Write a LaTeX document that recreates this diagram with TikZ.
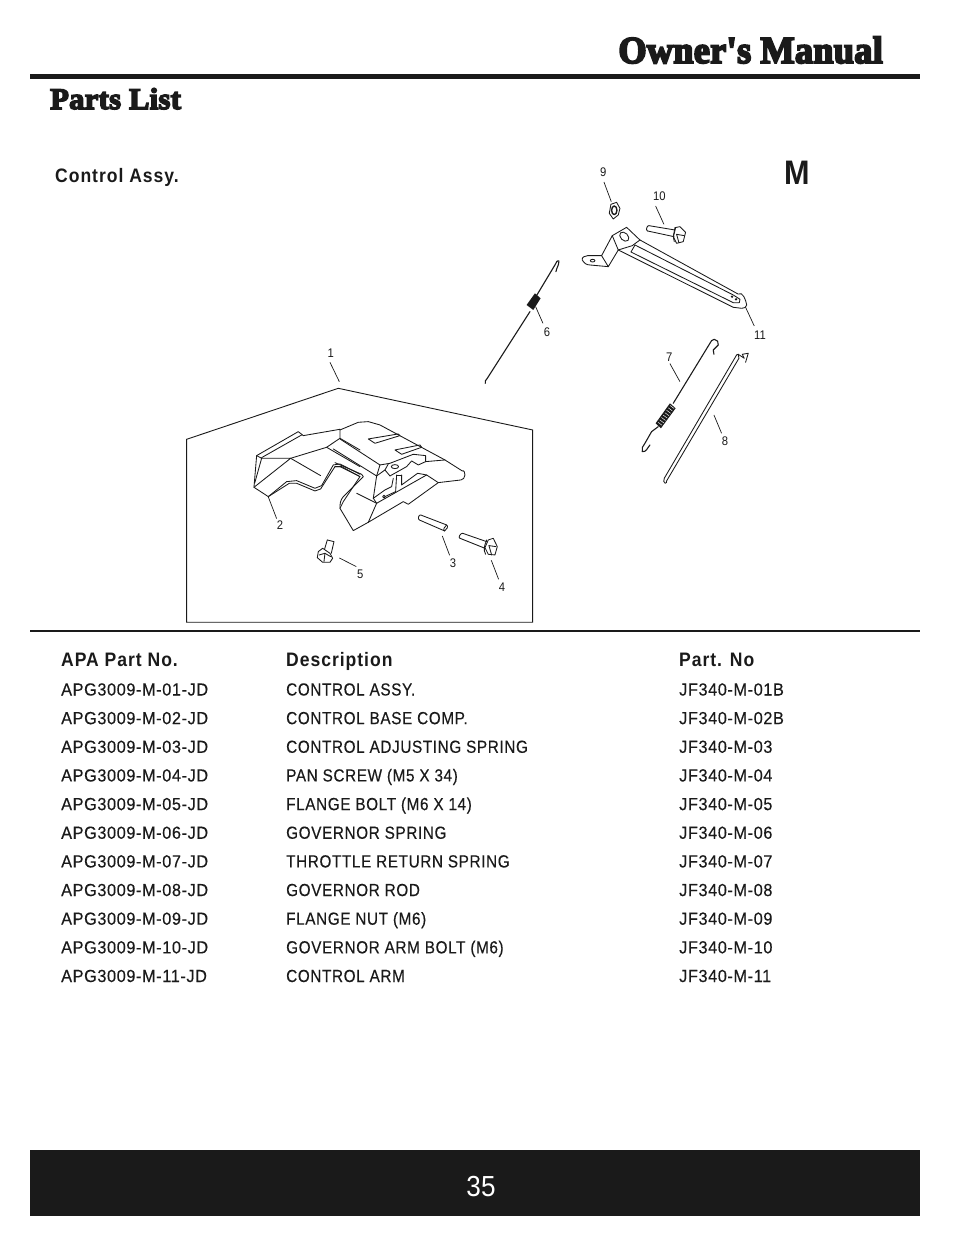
\documentclass[tikz,border=0pt]{standalone}
\usepackage{fontspec}
\setmainfont{Liberation Sans}
\newfontfamily\codefont[FakeStretch=0.93,LetterSpace=3.5,FakeBold=0.25]{Liberation Sans}
\newfontfamily\bodyfont[FakeStretch=0.875,LetterSpace=3.5,FakeBold=0.25]{Liberation Sans}
\newfontfamily\headfont[FakeStretch=0.90,LetterSpace=5]{Liberation Sans}
\newfontfamily\slabfont[FakeStretch=0.95,FakeBold=5,LetterSpace=1]{Liberation Serif}
\newfontfamily\slabwide[FakeStretch=1.02,FakeBold=5,LetterSpace=1]{Liberation Serif}
\newfontfamily\numfont[FakeStretch=0.9]{Liberation Sans}
\usetikzlibrary{calc}
\definecolor{ink}{HTML}{1A1A1A}
\tikzset{
  cell/.style={anchor=base west,inner sep=0pt,text=ink,font=\bodyfont\fontsize{17.5}{20}\selectfont},
  codecell/.style={anchor=base west,inner sep=0pt,text=ink,font=\codefont\fontsize{17.5}{20}\selectfont},
  headcell/.style={anchor=base west,inner sep=0pt,text=ink,font=\headfont\bfseries\fontsize{19.5}{22}\selectfont},
  callout/.style={inner sep=0pt,text=ink,font=\numfont\fontsize{12.5}{14}\selectfont},
  part/.style={line width=0.85pt,draw=ink,line join=round,line cap=round},
  wire/.style={line width=1.1pt,draw=ink,line join=round,line cap=round},
  leader/.style={line width=0.7pt,draw=ink},
  third/.style={x=0.3333pt,y=-0.3333pt}
}
\begin{document}
\begin{tikzpicture}[x=1pt,y=-1pt]
\useasboundingbox (0,0) rectangle (954,1235);
\fill[white] (0,0) rectangle (954,1235);
% header
\node[anchor=base east,inner sep=0pt,text=ink,font=\slabfont\bfseries\fontsize{38}{40}\selectfont] (title) at (883,63) {Owner's Manual};
\fill[ink] (30,74) rectangle (920,78.5);
\node[anchor=base west,inner sep=0pt,text=ink,font=\slabwide\bfseries\fontsize{30}{32}\selectfont] (parts) at (50,109) {Parts List};
\node[headcell] (assy) at (55,182) {Control Assy.};
\node[anchor=base west,inner sep=0pt,text=ink,font=\headfont\bfseries\fontsize{34}{36}\selectfont] (letter) at (784,184) {M};
% panel frame and callouts
\begin{scope}[third,shift={(540,1110)}]
\draw[line width=0.9pt,draw=ink] (20,208)--(475,55)--(1058,180)--(1058,757)--(20,757)--cycle;
\node[callout] (n2) at (300,466) {2};
\node[callout] (n3) at (819,581) {3};
\node[callout] (n4) at (966,653) {4};
\node[callout] (n5) at (541,612) {5};
\node[callout] (n1) at (452,-50) {1};
\coordinate (p1) at (478,35);
\coordinate (p2) at (265,381);
\coordinate (p3) at (787,498);
\coordinate (p4) at (934,571);
\coordinate (p5) at (478,564);
\draw[leader] (p1)--($(n1)+(-2,27)$);
\draw[leader] (p2)--($(n2)+(-10,-20)$);
\draw[leader] (p3)--($(n3)+(-10,-25)$);
\draw[leader] (p4)--($(n4)+(-10,-25)$);
\draw[leader] (p5)--($(n5)+(-12,-22)$);
\end{scope}
% control base, left half
\begin{scope}[third,shift={(750,1245)}]
\draw[part] (270,43)--(160,62)--(145,50)--(20,122)--(12,217)--(55,245)--(110,200)--(140,197)--(195,220)--(215,212)--(250,150)--(270,147)--(330,178);
\draw[part] (55,245)--(118,205)--(140,205)--(195,228)--(212,222)--(255,155)--(270,155)--(330,185);
\draw[part] (12,217)--(122,130)--(35,130)--(20,122);
\draw[part] (35,130)--(14,205);
\draw[part] (35,128)--(155,60);
\draw[part] (122,130)--(230,97)--(270,70)--(270,43);
\draw[part] (122,130)--(212,182);
\draw[part] (230,97)--(330,155);
\draw[part] (270,70)--(330,105);
\end{scope}
% control base, right half
\begin{scope}[third,shift={(1005,1245)}]
\draw[part] (15,45)--(70,22)--(100,20)--(135,30)--(330,135)--(382,168) to[out=35,in=80] (390,180) to[out=-100,in=0] (378,195)--(310,203)--(220,268)--(205,260)--(100,322)--(55,347)--(15,280) to[out=90,in=-130] (25,245)--(85,185)--(80,178)--(0,143);
\draw[part] (0,155)--(20,155)--(75,185)--(25,260)--(15,280);
\draw[part] (-5,102)--(125,183)--(115,250)--(125,265)--(100,322);
\draw[part] (65,235)--(125,265)--(275,180)--(310,203);
\draw[part] (15,72)--(135,150)--(125,183);
\draw[part] (100,72)--(190,57)--(195,62)--(120,85)--cycle;
\draw[part] (180,105)--(255,90)--(260,97)--(200,118)--cycle;
\draw[part] (135,150)--(165,145)--(235,118)--(272,122)--(272,140)--(330,135);
\draw[part] (180,155) ellipse (11 and 6);
\draw[part] (160,147)--(150,165)--(125,183);
\draw[part] (150,165)--(165,183)--(215,155)--(230,138)--(250,150)--(272,140);
\draw[part] (175,190)--(170,215)--(150,225)--(115,250);
\draw[part] (185,180)--(182,230)--(150,245);
\draw[part] (200,180)--(200,210)--(248,175)--(275,180);
\draw[part] (185,180)--(200,180);
\draw[part] (147,245) circle (4);
\end{scope}
% pin 3, bolts 4 and 5
\begin{scope}[third,shift={(930,1515)}]
\draw[part] (332,30)--(410,60) to[out=-30,in=30] (404,78)--(328,45) to[out=150,in=170] cycle;
\draw[part] (410,60) to[out=-140,in=150] (404,78);
\draw[part] (458,85)--(530,110);
\draw[part] (450,100)--(525,130);
\draw[part] (458,85) to[out=170,in=170] (450,100);
\draw[part] (535,105)--(550,100)--(562,125)--(555,150)--(535,148)--(525,128)--cycle;
\draw[part] (530,105) to[out=-110,in=120] (527,148);
\draw[part] (537,122)--(558,125);
\draw[part] (537,122)--(545,150);
\draw[part] (52,105)--(72,110)--(64,145);
\draw[part] (52,105)--(44,132);
\draw[part] (38,130)--(60,145)--(68,160)--(60,172)--(38,172)--(22,158)--(25,140)--cycle;
\draw[part] (28,150)--(45,145)--(62,155);
\draw[part] (45,145)--(42,170);
\end{scope}
% nut 9, bolt 10, arm 11 roots
\begin{scope}[third,shift={(1725,585)}]
\draw[part] (108,28)--(125,22)--(135,40)--(130,60)--(115,72)--(103,55)--cycle;
\draw[part,line width=1.4pt] (118,46) ellipse (8 and 13);
\draw[part] (222,92)--(300,105);
\draw[part] (218,108)--(297,125);
\draw[part] (222,92) to[out=170,in=170] (218,108);
\draw[part] (300,98)--(315,95)--(332,112)--(325,140)--(305,145)--(295,125)--cycle;
\draw[part] (302,98) to[out=-100,in=110] (298,140);
\draw[part] (305,118)--(328,122);
\draw[part] (305,118)--(312,143);
\draw[part] (112,122)--(155,97)--(195,135)--(172,152)--(130,165)--cycle;
\draw[part] (112,122)--(80,182)--(100,215)--(130,165);
\draw[part] (80,182)--(38,182) to[out=180,in=110] (22,195) to[out=-60,in=180] (45,210)--(100,215);
\draw[part] (53,197) ellipse (7 and 4);
\draw[part,rotate around={-45:(148,125)}] (148,125) ellipse (16 and 11);
\end{scope}
% arm 11, long part
\draw[part] (640,240)--(738,294) to[out=30,in=100] (746.7,305) to[out=-90,in=0] (741.7,308.3)--(733.3,307.3)--(618.3,250);
\draw[part] (635,245)--(733.3,295)--(740,299.3)--(739.3,302.7)--(733.3,302.7)--(631,252);
\draw[part] (635,245)--(631,252);
\fill[ink] (732,296.7) circle (1.3) (736,299.3) circle (1.3);
% spring 6 and callouts of the right group
\begin{scope}[third,shift={(1410,465)}]
\draw[wire] (46,685) to[out=120,in=-125] (52,670)--(180,470);
\draw[wire] (195,430)--(255,330) to[out=60,in=150] (267,318) to[out=-90,in=80] (258,350);
\fill[ink] (170,450)--(190,465)--(212,430)--(195,415)--cycle;
\node[callout] (n6) at (231,533) {6};
\node[callout] (n7) at (598,606) {7};
\node[callout] (n8) at (765,860) {8};
\node[callout] (n9) at (400,53) {9};
\node[callout] (n10) at (568,124) {10};
\node[callout] (n11) at (870,541) {11};
\coordinate (p6) at (197,455);
\coordinate (p7) at (630,680);
\coordinate (p8) at (732,780);
\coordinate (p9) at (424,140);
\coordinate (p10) at (582,208);
\coordinate (p11) at (827,457);
\draw[leader] (p6)--($(n6)+(-12,-28)$);
\draw[leader] (p7)--($(n7)+(2,20)$);
\draw[leader] (p8)--($(n8)+(-10,-25)$);
\draw[leader] (p9)--($(n9)+(2,28)$);
\draw[leader] (p10)--($(n10)+(-11,29)$);
\draw[leader] (p11)--($(n11)+(-17,-28)$);
\end{scope}
% spring 7 and rod 8
\begin{scope}[third,shift={(1905,1005)}]
\draw[wire] (237,58)--(235,45)--(250,30) to[out=70,in=0] (238,13) to[out=180,in=60] (225,25)--(115,205);
\fill[ink] (62,265)--(78,280)--(122,220)--(105,205)--cycle;
\foreach \t in {0.1,0.22,...,0.95}{\draw[white,line width=0.45pt] ($(70,272)!\t!(113,212)+(7,5)$)--($(70,272)!\t!(113,212)+(-5,-4)$);}
\draw[wire] (70,275)--(50,290)--(30,325) to[out=-125,in=110] (22,350) to[out=-10,in=-130] (45,330);
\draw[part] (305,60)--(88,430) to[out=-110,in=180] (91,445) to[out=0,in=-70] (95,438)--(312,70)--(310,58)--(328,70)--(322,58)--(340,55)--(332,82);
\draw[part] (305,60)--(310,58);
\end{scope}
% table
\draw[line width=1.5pt,draw=ink] (30,631)--(920,631);
\node[headcell] (h1) at (61,666) {APA Part No.};
\node[headcell] (h2) at (286,666) {Description};
\node[headcell] (h3) at (679,666) {Part. No};
\foreach \i/\a/\d/\p in {
0/01/CONTROL ASSY./01B,
1/02/CONTROL BASE COMP./02B,
2/03/CONTROL ADJUSTING SPRING/03,
3/04/PAN SCREW (M5 X 34)/04,
4/05/FLANGE BOLT (M6 X 14)/05,
5/06/GOVERNOR SPRING/06,
6/07/THROTTLE RETURN SPRING/07,
7/08/GOVERNOR ROD/08,
8/09/FLANGE NUT (M6)/09,
9/10/GOVERNOR ARM BOLT (M6)/10,
10/11/CONTROL ARM/11}{
  \pgfmathsetmacro\yy{695.5+28.65*\i}
  \node[codecell] (a\i) at (61,\yy) {APG3009-M-\a-JD};
  \node[cell] (d\i) at (286,\yy) {\d};
  \node[codecell] (p\i) at (679,\yy) {JF340-M-\p};
}
% footer
\fill[ink] (30,1150) rectangle (920,1216);
\node[inner sep=0pt,text=white,font=\numfont\fontsize{29}{32}\selectfont] (page) at (481,1187) {35};
\end{tikzpicture}
\end{document}
